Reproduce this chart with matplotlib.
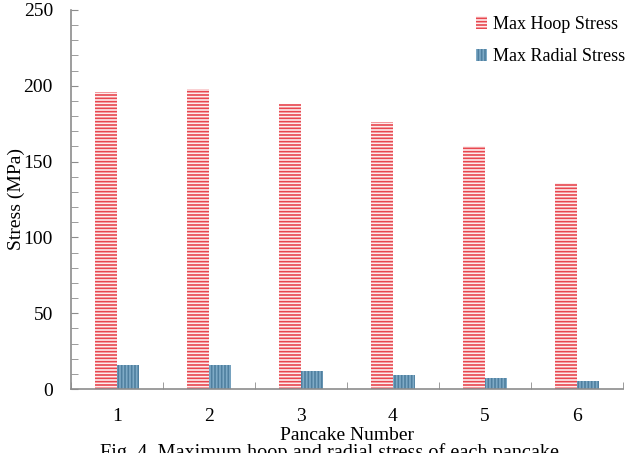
import matplotlib
matplotlib.use("Agg")
import matplotlib.pyplot as plt
import numpy as np

# data
pancakes = ['1', '2', '3', '4', '5', '6']
hoop_stress = [196, 198, 188, 176, 160, 136]
radial_stress = [16, 16, 12, 9, 7.5, 5.5]

plt.rcParams['font.family'] = ['Liberation Serif', 'DejaVu Serif']
plt.rcParams['hatch.linewidth'] = 1.2

AXIS_COLOR = '#8c8c8c'

fig = plt.figure(figsize=(6.28, 4.53), dpi=100)
ax = fig.add_axes([71 / 628, 1 - 389 / 453, 552 / 628, 379 / 453])

x = np.arange(len(pancakes))
barWidth = 0.24

ax.bar(x - barWidth / 2, hoop_stress, width=barWidth, color='#fdeeee',
       edgecolor='#e8474f', linewidth=0, hatch='-----', label='Max Hoop Stress')
ax.bar(x + barWidth / 2, radial_stress, width=barWidth, color='#7eaac6',
       edgecolor='#4f7f9f', linewidth=0, hatch='|||||', label='Max Radial Stress')

ax.set_xlim(-0.5, len(pancakes) - 0.5)
ax.set_ylim(0, 250)

# labels at category centres, ticks at category boundaries
ax.set_xticks(x)
ax.set_xticklabels(pancakes, fontsize=14)
ax.set_xticks(np.arange(len(pancakes) + 1) - 0.5, minor=True)
ax.tick_params(axis='x', which='major', length=0, pad=14)
ax.tick_params(axis='x', which='minor', direction='in', length=5, color=AXIS_COLOR)

ax.set_yticks(np.arange(0, 251, 50))
ax.set_yticks(np.arange(0, 251, 10), minor=True)
ax.tick_params(axis='y', which='both', direction='in', length=5, color=AXIS_COLOR,
               labelsize=14, pad=13)

for side in ['top', 'right']:
    ax.spines[side].set_visible(False)
for side in ['left', 'bottom']:
    ax.spines[side].set_color(AXIS_COLOR)
    ax.spines[side].set_linewidth(1.2)

ax.set_xlabel('Pancake Number', fontsize=14, labelpad=1)
ax.set_ylabel('Stress (MPa)', fontsize=14, labelpad=-1)

ax.legend(loc='upper left', bbox_to_anchor=(476 / 628, 1 - 16 / 453),
          bbox_transform=fig.transFigure, frameon=False, fontsize=13,
          handlelength=0.6, handleheight=0.7, handletextpad=0.35,
          labelspacing=0.85, borderaxespad=0, borderpad=0)

fig.text(329 / 628, -0.012, 'Fig. 4. Maximum hoop and radial stress of each pancake',
         fontsize=14.6, ha='center', va='baseline')

fig.savefig('out.png', dpi=100)
